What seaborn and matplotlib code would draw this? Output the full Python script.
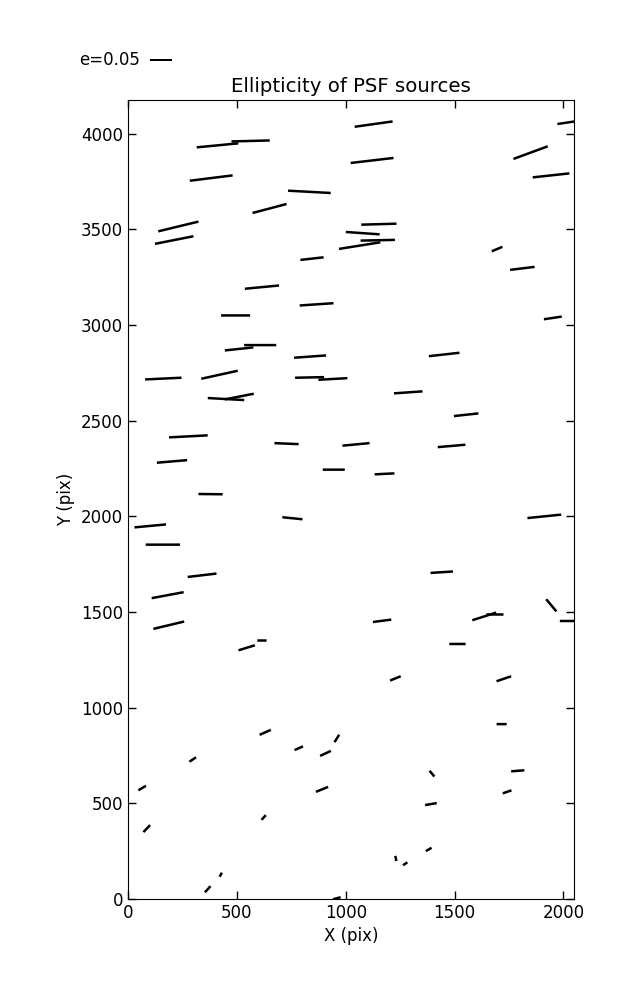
import numpy as np
import matplotlib
matplotlib.use("Agg")
import matplotlib.pyplot as plt
import seaborn as sns

# Source positions on the CCD (pix), ellipticity and position angle (deg)
x_pix = [411, 563, 1128, 2040, 1849, 1121, 382, 1943, 833, 650,
         231, 212, 1152, 1078, 1147, 1064, 845, 1695, 1811, 615,
         866, 494, 1951, 510, 607, 836, 1452, 162, 420, 834,
         941, 1287, 450, 511, 1553, 277, 728, 1047, 1486, 202,
         945, 1178, 379, 755, 1912, 102, 160, 340, 1441, 182,
         1944, 187, 1636, 1685, 2046, 1167, 545, 615, 1513, 1228,
         1726, 1716, 630, 959, 784, 907, 297, 1396, 1790, 65,
         891, 1741, 1391, 86, 623, 1381, 1230, 1273, 426, 366,
         959]
y_pix = [3939, 3962, 4050, 4062, 3901, 3860, 3768, 3782, 3696, 3609,
         3515, 3444, 3527, 3480, 3443, 3415, 3347, 3397, 3296, 3198,
         3108, 3050, 3037, 2875, 2895, 2835, 2846, 2720, 2740, 2726,
         2718, 2648, 2613, 2626, 2531, 2418, 2380, 2376, 2368, 2287,
         2244, 2222, 2116, 1990, 2000, 1950, 1852, 1692, 1708, 1588,
         1535, 1431, 1477, 1487, 1453, 1454, 1313, 1351, 1333, 1153,
         1151, 914, 871, 839, 788, 761, 729, 655, 670, 580,
         573, 560, 496, 368, 426, 259, 212, 184, 127, 51,
         4]
ellip = [0.095, 0.087, 0.087, 0.068, 0.083, 0.098, 0.098, 0.084, 0.097, 0.080,
         0.094, 0.089, 0.080, 0.077, 0.078, 0.095, 0.053, 0.026, 0.056, 0.078,
         0.077, 0.066, 0.041, 0.065, 0.073, 0.073, 0.070, 0.083, 0.085, 0.066,
         0.066, 0.065, 0.083, 0.067, 0.056, 0.088, 0.055, 0.062, 0.063, 0.069,
         0.050, 0.045, 0.055, 0.046, 0.077, 0.072, 0.078, 0.066, 0.051, 0.074,
         0.036, 0.072, 0.057, 0.039, 0.062, 0.042, 0.039, 0.021, 0.037, 0.026,
         0.035, 0.023, 0.028, 0.020, 0.021, 0.027, 0.018, 0.017, 0.030, 0.020,
         0.030, 0.021, 0.027, 0.022, 0.0145, 0.015, 0.012, 0.012, 0.0105, 0.019,
         0.018]
pos_angle = [5.5, 1.5, 8.0, 8.5, 20.2, 6.7, 7.1, 6.2, -3.1, 14.8,
             13.6, 11.2, 1.6, -4.0, 1.2, 9.1, 6.4, 22.9, 7.0, 5.5,
             3.9, 0.0, 8.5, 6.1, 0.0, 4.1, 6.4, 2.7, 12.4, 1.2,
             3.2, 4.0, -3.2, 11.1, 6.2, 3.0, -2.4, 5.4, 5.0, 4.9,
             0.0, 2.9, -0.7, -5.7, 5.8, 5.4, 0.0, 6.7, 3.6, 10.6,
             -50.2, 13.4, 17.8, 0.0, 0.0, 7.4, 17.1, 0.0, 0.0, 21.9,
             18.8, 0.0, 23.9, 57.8, 23.3, 25.0, 33.3, -50.0, 4.4, 30.9,
             22.1, 19.0, 9.7, 46.3, 47.5, 30.0, -79.0, 34.3, 60.0, 47.9,
             14.6]

x_ticks = [0, 500, 1000, 1500, 2000]
y_ticks = [0, 500, 1000, 1500, 2000, 2500, 3000, 3500, 4000]
key_e = 0.05

sns.set_style("ticks", {
    "xtick.direction": "in", "ytick.direction": "in",
    "xtick.top": True, "ytick.right": True,
    "axes.edgecolor": "black", "axes.labelcolor": "black",
    "text.color": "black", "xtick.color": "black", "ytick.color": "black",
    "axes.linewidth": 1.0,
})
plt.rcParams["font.family"] = ["DejaVu Sans"]
plt.rcParams["font.size"] = 12

fig = plt.figure(figsize=(6.37, 10.0), dpi=100)
ax = fig.add_axes([0.201, 0.101, 0.7, 0.799])

th = np.deg2rad(np.array(pos_angle))
e = np.array(ellip)
u = e * np.cos(th)
v = e * np.sin(th)

Q = ax.quiver(x_pix, y_pix, u, v, angles="uv", pivot="middle",
              scale_units="inches", scale=100.0 / 440.0,
              units="inches", width=0.025,
              headwidth=0, headlength=0, headaxislength=0,
              color="black", minlength=0.1)
Q.set_snap(False)
ax.quiverkey(Q, 0.236, 0.94, key_e, "e=0.05", labelpos="W",
             coordinates="figure", fontproperties={"size": 12})

ax.set_xlim(0, 2048)
ax.set_ylim(0, 4176)
ax.set_xticks(x_ticks)
ax.set_yticks(y_ticks)
ax.tick_params(which="major", length=6, width=1, labelsize=12,
               top=True, right=True, direction="in")
ax.set_xlabel("X (pix)", fontsize=12)
ax.set_ylabel("Y (pix)", fontsize=12)
ax.set_title("Ellipticity of PSF sources", fontsize=14.2)

fig.savefig("out.png", dpi=100)
